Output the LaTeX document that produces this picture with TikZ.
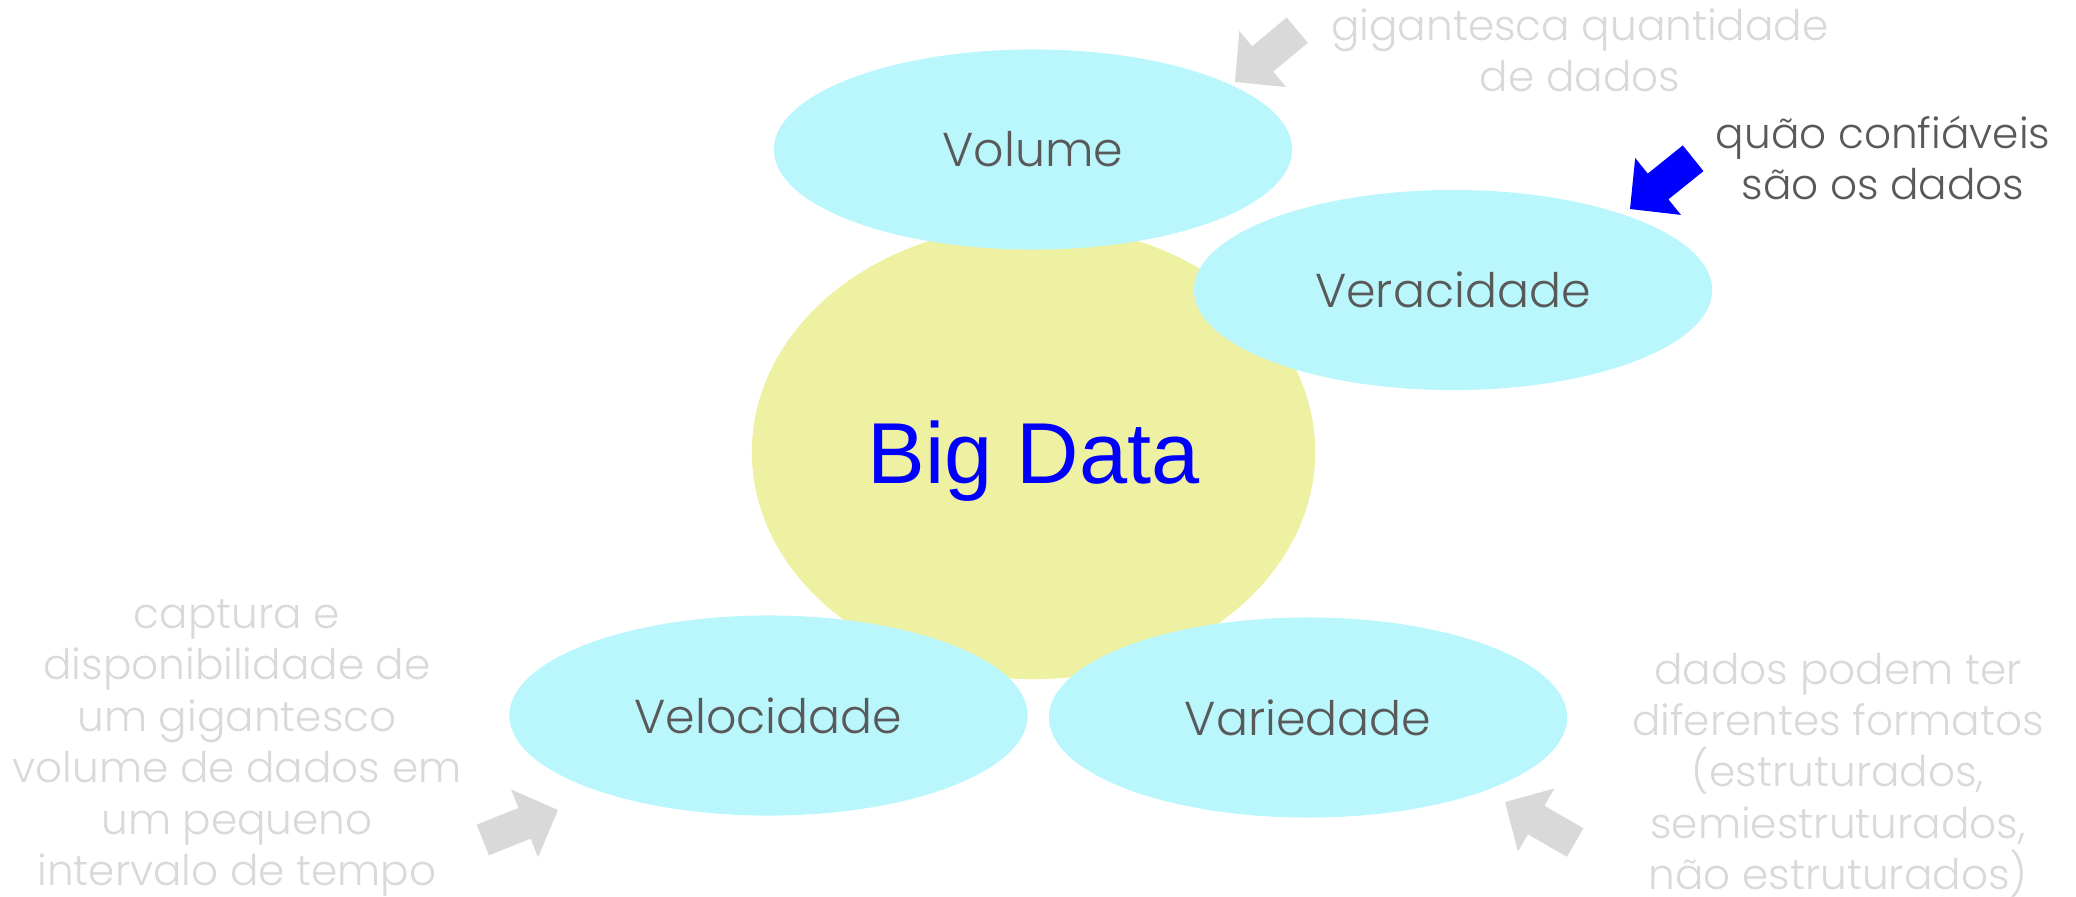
\documentclass[tikz,border=0pt]{standalone}
\usepackage{fontspec}
\setmainfont{Poppins}[UprightFont={* Light}]
\newfontfamily\arialfont{Liberation Sans}
\usetikzlibrary{shapes.geometric}

\definecolor{bdyellow}{HTML}{EEF0A2}
\definecolor{bdcyan}{HTML}{B9F7FD}
\definecolor{labelgray}{HTML}{595959}
\definecolor{notegray}{HTML}{D9D9D9}
\definecolor{bdblue}{HTML}{0000FF}

\tikzset{
    blockarrow/.pic={
        \fill (0,0) -- (-36,36.5) -- (-36,16.5) -- (-81,16.5) -- (-81,-16.5)
              -- (-36,-16.5) -- (-36,-36.5) -- cycle;
    }
}

\begin{document}
\begin{tikzpicture}[x=0.01cm, y=0.01cm,
    vball/.style={ellipse, fill=bdcyan, minimum width=5.18cm, minimum height=2cm,
        inner sep=0pt, text=labelgray, font=\fontsize{13.5}{16}\selectfont},
    note/.style={align=center, text=notegray, inner sep=0pt,
        font=\fontsize{12}{14.6}\selectfont}]
    \useasboundingbox (0,0) rectangle (2076,-896);

    % Central ellipse
    \node[ellipse, fill=bdyellow, minimum width=5.63cm, minimum height=4.54cm,
        inner sep=0pt, text=bdblue, text depth=0pt,
        font=\arialfont\fontsize{24.6}{29}\selectfont] (bigdata) at (1033.5,-452) {Big Data};

    % The four V ellipses
    \node[vball] (volume) at (1033,-149.5) {Volume};
    \node[vball] (veracidade) at (1453,-290) {Veracidade};
    \node[vball] (velocidade) at (768.5,-715.5) {Velocidade};
    \node[vball] (variedade) at (1308,-717.5) {Variedade};

    % Notes beside the ellipses
    \node[note] (nvolume) at (1580,-50) {gigantesca quantidade\\de dados};
    \node[note, text=labelgray] (nveracidade) at (1883,-158) {quão confiáveis\\são os dados};
    \node[note] (nvelocidade) at (237,-748) {captura e\\disponibilidade de\\um gigantesco\\volume de dados em\\um pequeno\\intervalo de tempo};
    \node[note] (nvariedade) at (1838,-775) {dados podem ter\\diferentes formatos\\(estruturados,\\semiestruturados,\\não estruturados)};

    % Block arrows from the notes
    \coordinate (tipvolume) at (1235,-82);
    \coordinate (tipveracidade) at (1630,-209);
    \coordinate (tipvelocidade) at (558,-810);
    \coordinate (tipvariedade) at (1505,-802);
    \pic[fill=notegray, rotate=219.8] at (tipvolume) {blockarrow};
    \pic[fill=bdblue, rotate=218.8] at (tipveracidade) {blockarrow};
    \pic[fill=notegray, rotate=21.7] at (tipvelocidade) {blockarrow};
    \pic[fill=notegray, rotate=150] at (tipvariedade) {blockarrow};
\end{tikzpicture}
\end{document}
